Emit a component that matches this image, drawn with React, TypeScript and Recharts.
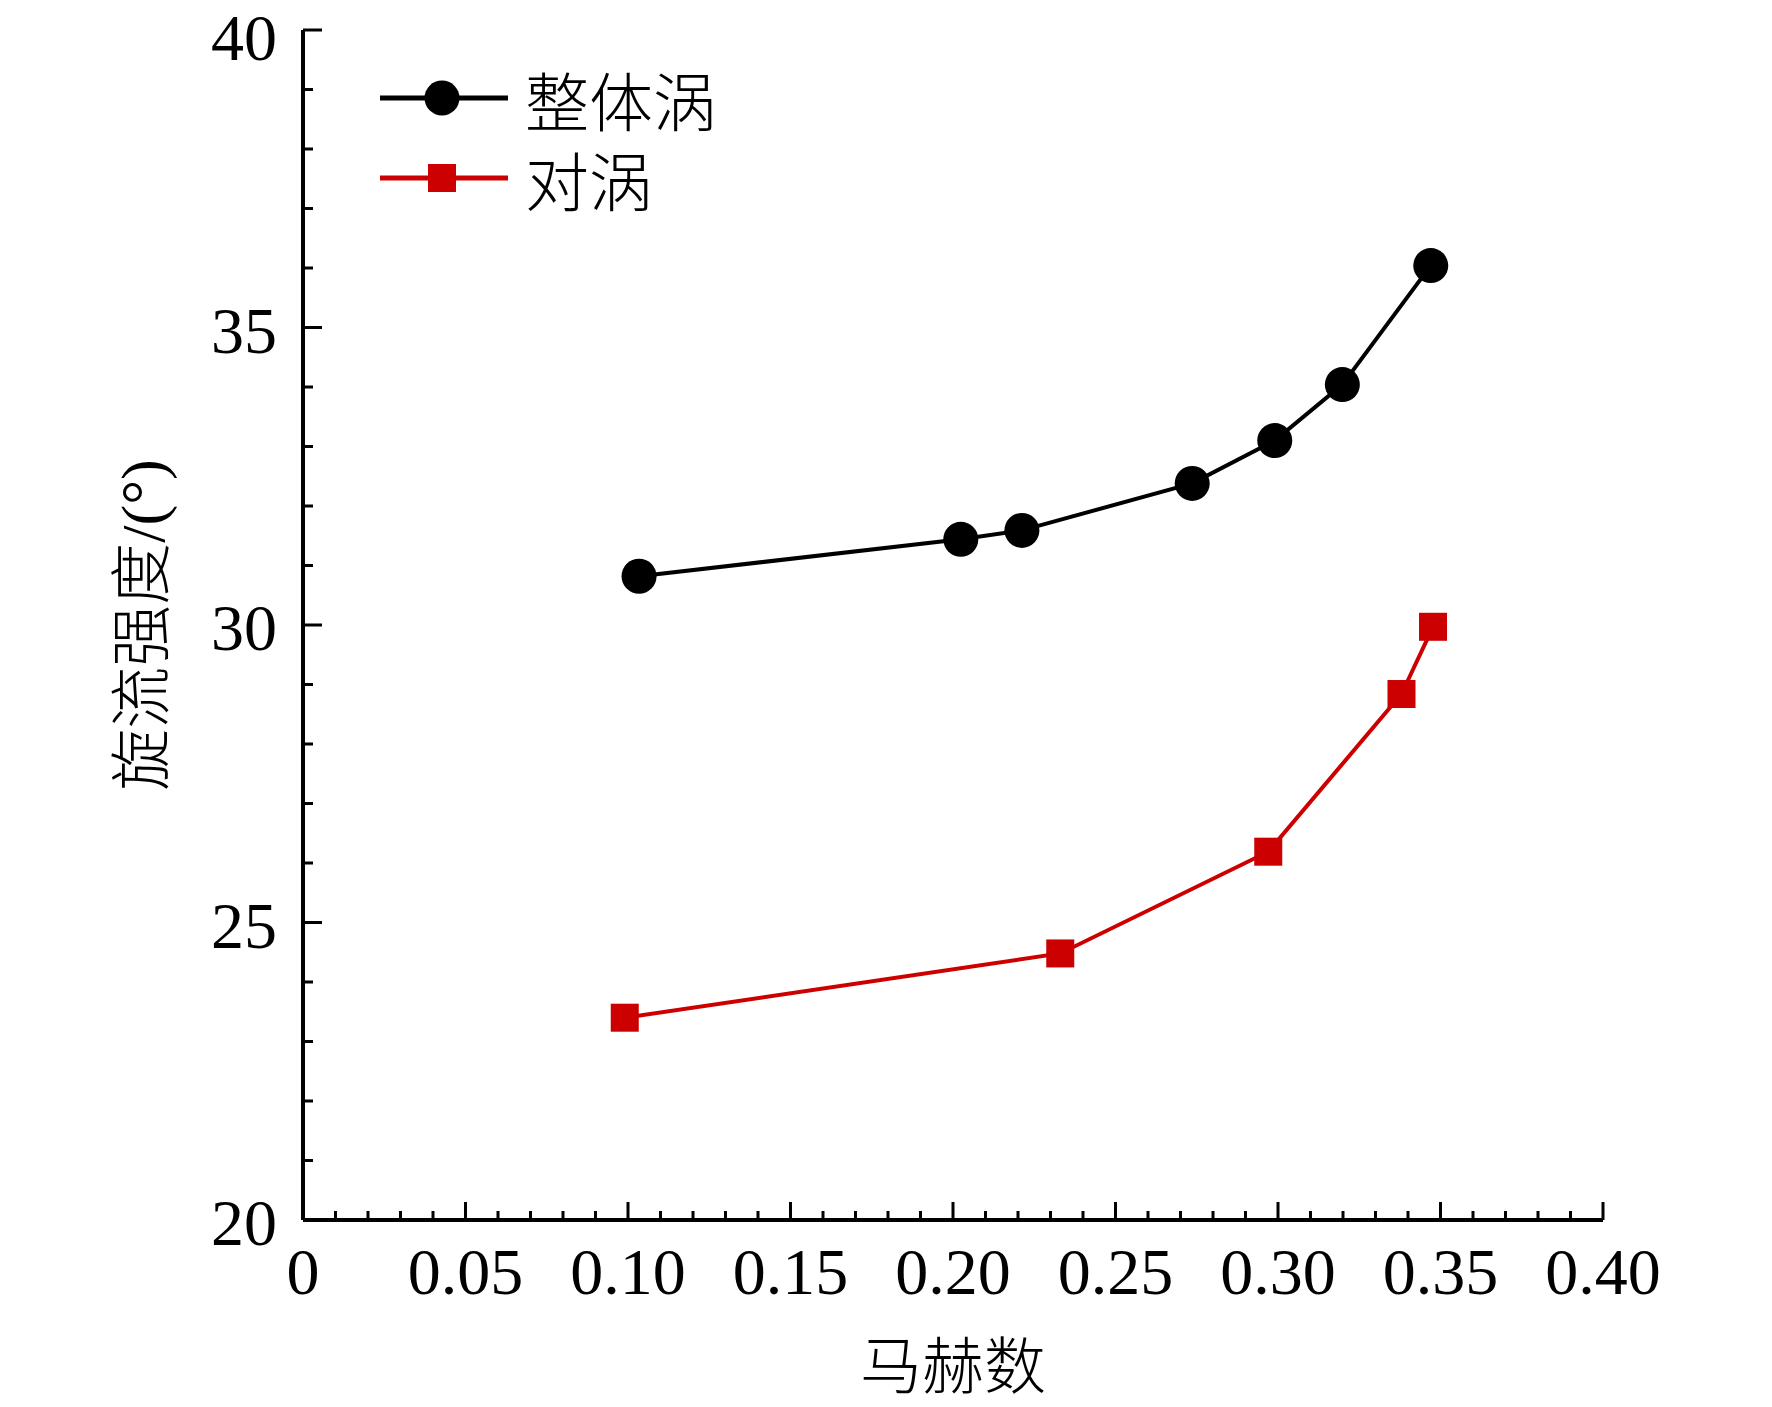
import React from 'react';
import { LineChart, Line, XAxis, YAxis, Legend } from 'recharts';

// 整体涡 (overall vortex)
const machOverall = [0.1034, 0.2024, 0.2212, 0.2736, 0.299, 0.3198, 0.347];
const swirlOverall = [30.82, 31.44, 31.59, 32.38, 33.1, 34.04, 36.04];

// 对涡 (paired vortex)
const machPair = [0.099, 0.233, 0.297, 0.338, 0.3477];
const swirlPair = [23.4, 24.48, 26.19, 28.84, 29.97];

const seriesNames = ['整体涡', '对涡'];

const xMajorTicks = [0, 0.05, 0.1, 0.15, 0.2, 0.25, 0.3, 0.35, 0.4];
const xTickLabels = ['0', '0.05', '0.10', '0.15', '0.20', '0.25', '0.30', '0.35', '0.40'];
const yMajorTicks = [20, 25, 30, 35, 40];
const yTickLabels = ['20', '25', '30', '35', '40'];

// minor ticks: every 0.01 on x, every 1 on y
const xAllTicks = Array.from({ length: 41 }, (_, i) => i / 100);
const yAllTicks = Array.from({ length: 21 }, (_, i) => 20 + i);

const overallData = machOverall.map((m, i) => ({ x: m, y: swirlOverall[i] }));
const pairData = machPair.map((m, i) => ({ x: m, y: swirlPair[i] }));

const NUM_FONT = '"Liberation Serif", "Times New Roman", serif';
const CJK_FONT = '"Liberation Serif", "Noto Sans CJK SC", serif';
const RED = '#cc0000';

const majorIndex = (v: number, majors: number[]) =>
  majors.findIndex((m) => Math.abs(m - v) < 1e-6);

const XTick = (props: any) => {
  const { x, y, payload } = props;
  const idx = majorIndex(payload.value, xMajorTicks);
  const len = idx >= 0 ? 18 : 9;
  return (
    <g>
      <line x1={x} y1={y} x2={x} y2={y - len} stroke="#000" strokeWidth={3} />
      {idx >= 0 && (
        <text x={x} y={y + 74} textAnchor="middle" fontFamily={NUM_FONT} fontSize={66} fill="#000">
          {xTickLabels[idx]}
        </text>
      )}
    </g>
  );
};

const YTick = (props: any) => {
  const { x, y, payload } = props;
  const idx = majorIndex(payload.value, yMajorTicks);
  const len = idx >= 0 ? 19 : 10;
  // keep the top label's text box inside the page
  const ty = Math.max(y + 25, 60);
  return (
    <g>
      <line x1={x} y1={y} x2={x + len} y2={y} stroke="#000" strokeWidth={3} />
      {idx >= 0 && (
        <text x={x - 26} y={ty} textAnchor="end" fontFamily={NUM_FONT} fontSize={66} fill="#000">
          {yTickLabels[idx]}
        </text>
      )}
    </g>
  );
};

const SquareDot = (props: any) => {
  const { cx, cy, index } = props;
  if (cx == null || cy == null) return <g key={`sq-${index}`} />;
  return <rect key={`sq-${index}`} x={cx - 14} y={cy - 14} width={28} height={28} fill={RED} />;
};

const renderLegend = () => (
  <svg width={420} height={200}>
    <line x1={20} y1={58} x2={148} y2={58} stroke="#000" strokeWidth={5} />
    <circle cx={82} cy={58} r={17.5} fill="#000" />
    <text x={165} y={86} fontFamily={CJK_FONT} fontSize={64} fontWeight={300} fill="#000">
      {seriesNames[0]}
    </text>
    <line x1={20} y1={138} x2={148} y2={138} stroke={RED} strokeWidth={5} />
    <rect x={68} y={124} width={28} height={28} fill={RED} />
    <text x={165} y={166} fontFamily={CJK_FONT} fontSize={64} fontWeight={300} fill="#000">
      {seriesNames[1]}
    </text>
  </svg>
);

const App: React.FC = () => {
  return (
    <div style={{ position: 'absolute', left: 0, top: 0, background: '#fff' }}>
      <LineChart width={1772} height={1407} margin={{ top: 30, right: 169, bottom: 87, left: 203 }}>
        <XAxis
          type="number"
          dataKey="x"
          domain={[0, 0.4]}
          ticks={xAllTicks}
          interval={0}
          tickSize={0}
          tickMargin={0}
          tickLine={false}
          tick={<XTick />}
          height={100}
          axisLine={{ stroke: '#000', strokeWidth: 4 }}
          allowDataOverflow
          label={(p: any) => {
            const vb = p.viewBox;
            return (
              <text
                x={vb.x + vb.width / 2}
                y={vb.y + 169}
                textAnchor="middle"
                fontFamily={CJK_FONT}
                fontSize={62}
                fontWeight={300}
                fill="#000"
              >
                马赫数
              </text>
            );
          }}
        />
        <YAxis
          type="number"
          dataKey="y"
          domain={[20, 40]}
          ticks={yAllTicks}
          interval={0}
          tickSize={0}
          tickMargin={0}
          tickLine={false}
          tick={<YTick />}
          width={100}
          axisLine={{ stroke: '#000', strokeWidth: 4 }}
          allowDataOverflow
          label={(p: any) => {
            const vb = p.viewBox;
            const cx = vb.x + vb.width - 160;
            const cy = vb.y + vb.height / 2;
            return (
              <text
                x={cx}
                y={cy}
                transform={`rotate(-90 ${cx} ${cy})`}
                textAnchor="middle"
                dominantBaseline="central"
                fontFamily={CJK_FONT}
                fontSize={62}
                fontWeight={300}
                fill="#000"
              >
                旋流强度/(°)
              </text>
            );
          }}
        />
        <Legend
          layout="horizontal"
          verticalAlign="middle"
          align="center"
          content={renderLegend}
          wrapperStyle={{ left: 360, top: 40, width: 420, height: 200 }}
        />
        <Line
          data={overallData}
          dataKey="y"
          name={seriesNames[0]}
          stroke="#000"
          strokeWidth={4}
          dot={{ r: 17.5, fill: '#000', stroke: 'none' }}
          activeDot={false}
          isAnimationActive={false}
        />
        <Line
          data={pairData}
          dataKey="y"
          name={seriesNames[1]}
          stroke={RED}
          strokeWidth={4}
          dot={<SquareDot />}
          activeDot={false}
          isAnimationActive={false}
        />
      </LineChart>
    </div>
  );
};

export default App;
